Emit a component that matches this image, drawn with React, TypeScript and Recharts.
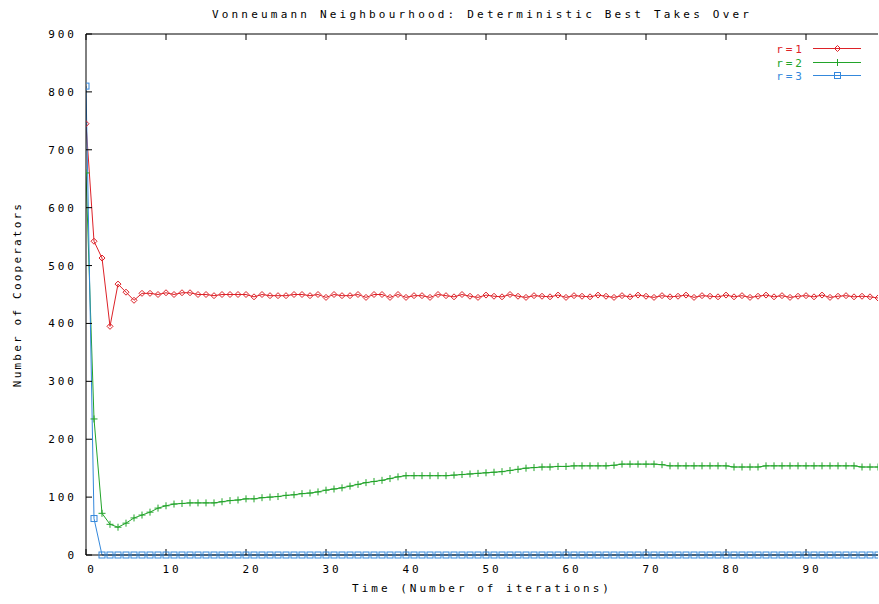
import React from "react";
import { LineChart, Line, XAxis, YAxis, Legend, Label } from "recharts";

const r1Values = [
  745, 542, 513, 395, 468, 454, 440, 452,
  452, 450, 453, 450, 453, 453, 450, 450, 448, 450,
  450, 450, 450, 446, 450, 448, 448, 448, 450, 450,
  448, 450, 445, 450, 448, 448, 450, 445, 450, 450,
  445, 450, 445, 448, 448, 445, 450,
  448, 446, 450, 447, 445, 449, 447, 446, 450, 447,
  445, 448, 447, 446, 449, 445, 448, 447, 446, 449,
  447, 445, 448, 446, 449, 447, 445, 448, 446, 447,
  449, 445, 448, 447, 446, 449, 446, 448, 445, 447,
  449, 446, 448, 445, 447, 448, 446, 449, 445, 447,
  448, 446, 447, 446, 444,
];

const r2Values = [
  660, 235, 72, 53, 48, 55, 64, 69, 74, 81,
  85, 88, 89, 90, 90, 90, 90, 92, 94, 95,
  97, 97, 99, 100, 101, 103, 104, 106, 107, 109,
  112, 114, 116, 119, 122, 125, 127, 129, 132, 135,
  137, 137, 137, 137, 137, 137, 138, 139, 140, 141,
  142, 143, 144, 146, 148, 150, 151, 152, 152, 153,
  153, 154, 154, 154, 154, 154, 155, 157, 157, 157,
  157, 157, 156, 154, 154, 154, 154, 154, 154, 154,
  154, 152, 152, 152, 152, 154, 154, 154, 154, 154,
  154, 154, 154, 154, 154, 154, 154, 152, 152, 152,
];

const r3Values = [
  810, 63, 0, 0, 0, 0, 0, 0, 0, 0,
  0, 0, 0, 0, 0, 0, 0, 0, 0, 0,
  0, 0, 0, 0, 0, 0, 0, 0, 0, 0,
  0, 0, 0, 0, 0, 0, 0, 0, 0, 0,
  0, 0, 0, 0, 0, 0, 0, 0, 0, 0,
  0, 0, 0, 0, 0, 0, 0, 0, 0, 0,
  0, 0, 0, 0, 0, 0, 0, 0, 0, 0,
  0, 0, 0, 0, 0, 0, 0, 0, 0, 0,
  0, 0, 0, 0, 0, 0, 0, 0, 0, 0,
  0, 0, 0, 0, 0, 0, 0, 0, 0, 0,
];

const seriesNames = ["r=1", "r=2", "r=3"];
const xTicks = [0, 10, 20, 30, 40, 50, 60, 70, 80, 90];
const yTicks = [0, 100, 200, 300, 400, 500, 600, 700, 800, 900];
const titleText = "Vonneumann Neighbourhood: Deterministic Best Takes Over";
const xLabelText = "Time (Number of iterations)";
const yLabelText = "Number of Cooperators";

const COLORS = { r1: "#dd2228", r2: "#22a42a", r3: "#3488dc" };
const FONT = "'DejaVu Sans Mono', 'Liberation Mono', monospace";
const LS = 3;
const X_DOMAIN = [0, 99];

const data = r1Values.map((v, i) => ({
  t: i,
  r1: v,
  r2: r2Values[i],
  r3: r3Values[i],
}));

function Marker({ kind, cx, cy, color }: { kind: string; cx: number; cy: number; color: string }) {
  if (kind === "r1") {
    return (
      <polygon
        points={`${cx - 3},${cy} ${cx},${cy - 3} ${cx + 3},${cy} ${cx},${cy + 3}`}
        fill="none"
        stroke={color}
        strokeWidth={1}
      />
    );
  }
  if (kind === "r2") {
    return (
      <g stroke={color} strokeWidth={1}>
        <line x1={cx - 3.5} y1={cy} x2={cx + 3.5} y2={cy} />
        <line x1={cx} y1={cy - 3.5} x2={cx} y2={cy + 3.5} />
      </g>
    );
  }
  return <rect x={cx - 3} y={cy - 3} width={6} height={6} fill="none" stroke={color} strokeWidth={1} />;
}

const makeDot = (kind: string, color: string) => (p: any) => {
  if (p.cx == null || p.cy == null || isNaN(p.cx) || isNaN(p.cy)) return <g key={`e-${kind}-${p.index}`} />;
  return (
    <g key={`d-${kind}-${p.index}`}>
      <Marker kind={kind} cx={p.cx} cy={p.cy} color={color} />
    </g>
  );
};

const BottomTick = (p: any) => (
  <text
    x={p.x + 6}
    y={p.y}
    textAnchor="middle"
    fontFamily={FONT}
    fontSize={11}
    letterSpacing={LS}
    fill="#000"
  >
    {p.payload.value}
  </text>
);

const LeftTick = (p: any) => (
  <text
    x={p.x}
    y={p.y + 4}
    textAnchor="end"
    fontFamily={FONT}
    fontSize={11}
    letterSpacing={LS}
    fill="#000"
  >
    {p.payload.value}
  </text>
);

const EmptyTick = () => <g />;

const LegendContent = (props: any) => {
  const payload = props.payload || [];
  const kinds = ["r1", "r2", "r3"];
  return (
    <svg width={110} height={48} style={{ display: "block" }}>
      {payload.map((e: any, i: number) => {
        const y = Math.round(8 + 13.5 * i) + 0.5;
        const kind = e.dataKey || kinds[i];
        return (
          <g key={`lg-${i}`}>
            <text
              x={35}
              y={y + 4}
              textAnchor="end"
              fontFamily={FONT}
              fontSize={11}
              letterSpacing={LS}
              fill={e.color}
            >
              {e.value}
            </text>
            <line x1={43} y1={y} x2={91} y2={y} stroke={e.color} strokeWidth={1} />
            <Marker kind={kind} cx={67.5} cy={y} color={e.color} />
          </g>
        );
      })}
    </svg>
  );
};

const TitleLabel = (props: any) => {
  const vb = props.viewBox || {};
  return (
    <text
      x={vb.x + vb.width / 2}
      y={vb.y + vb.height - 16}
      textAnchor="middle"
      fontFamily={FONT}
      fontSize={11}
      letterSpacing={3.2}
      fill="#000"
    >
      {titleText}
    </text>
  );
};

const XLabel = (props: any) => {
  const vb = props.viewBox || {};
  return (
    <text
      x={vb.x + vb.width / 2}
      y={vb.y + 37}
      textAnchor="middle"
      fontFamily={FONT}
      fontSize={11}
      letterSpacing={LS}
      fill="#000"
    >
      {xLabelText}
    </text>
  );
};

const YLabel = (props: any) => {
  const vb = props.viewBox || {};
  const x = vb.x + 21;
  const y = vb.y + vb.height / 2;
  return (
    <text
      x={x}
      y={y}
      transform={`rotate(-90, ${x}, ${y})`}
      textAnchor="middle"
      fontFamily={FONT}
      fontSize={11}
      letterSpacing={2.2}
      fill="#000"
    >
      {yLabelText}
    </text>
  );
};

export default function App() {
  return (
    <div style={{ position: "absolute", left: 0, top: 0, width: 879, height: 604, background: "#fff" }}>
      <LineChart
        width={879}
        height={604}
        data={data}
        margin={{ top: 33, right: 0, bottom: 19, left: 0 }}
      >
        <XAxis
          dataKey="t"
          type="number"
          domain={X_DOMAIN}
          allowDataOverflow
          ticks={xTicks}
          height={30}
          tickSize={-6}
          tickMargin={24}
          tick={BottomTick}
          axisLine={{ stroke: "#000" }}
          tickLine={{ stroke: "#000" }}
        >
          <Label content={XLabel} />
        </XAxis>
        <XAxis
          xAxisId="top"
          orientation="top"
          dataKey="t"
          type="number"
          domain={X_DOMAIN}
          allowDataOverflow
          ticks={xTicks}
          height={1}
          tickSize={-6}
          tickMargin={0}
          tick={EmptyTick}
          axisLine={{ stroke: "#000" }}
          tickLine={{ stroke: "#000" }}
        >
          <Label content={TitleLabel} />
        </XAxis>
        <YAxis
          type="number"
          domain={[0, 900]}
          ticks={yTicks}
          width={86}
          tickSize={-6}
          tickMargin={15}
          tick={LeftTick}
          axisLine={{ stroke: "#000" }}
          tickLine={{ stroke: "#000" }}
        >
          <Label content={YLabel} />
        </YAxis>
        <YAxis
          yAxisId="right"
          orientation="right"
          type="number"
          domain={[0, 900]}
          ticks={yTicks}
          width={1}
          tickSize={-6}
          tickMargin={0}
          tick={EmptyTick}
          axisLine={false}
          tickLine={{ stroke: "#000" }}
        />
        <Legend
          layout="vertical"
          align="center"
          verticalAlign="middle"
          wrapperStyle={{ top: 40, left: 770, width: 110, height: 48 }}
          content={LegendContent}
        />
        <Line
          dataKey="r1"
          name={seriesNames[0]}
          stroke={COLORS.r1}
          strokeWidth={1}
          dot={makeDot("r1", COLORS.r1)}
          isAnimationActive={false}
        />
        <Line
          dataKey="r2"
          name={seriesNames[1]}
          stroke={COLORS.r2}
          strokeWidth={1}
          dot={makeDot("r2", COLORS.r2)}
          isAnimationActive={false}
        />
        <Line
          dataKey="r3"
          name={seriesNames[2]}
          stroke={COLORS.r3}
          strokeWidth={1}
          dot={makeDot("r3", COLORS.r3)}
          isAnimationActive={false}
        />
      </LineChart>
    </div>
  );
}
